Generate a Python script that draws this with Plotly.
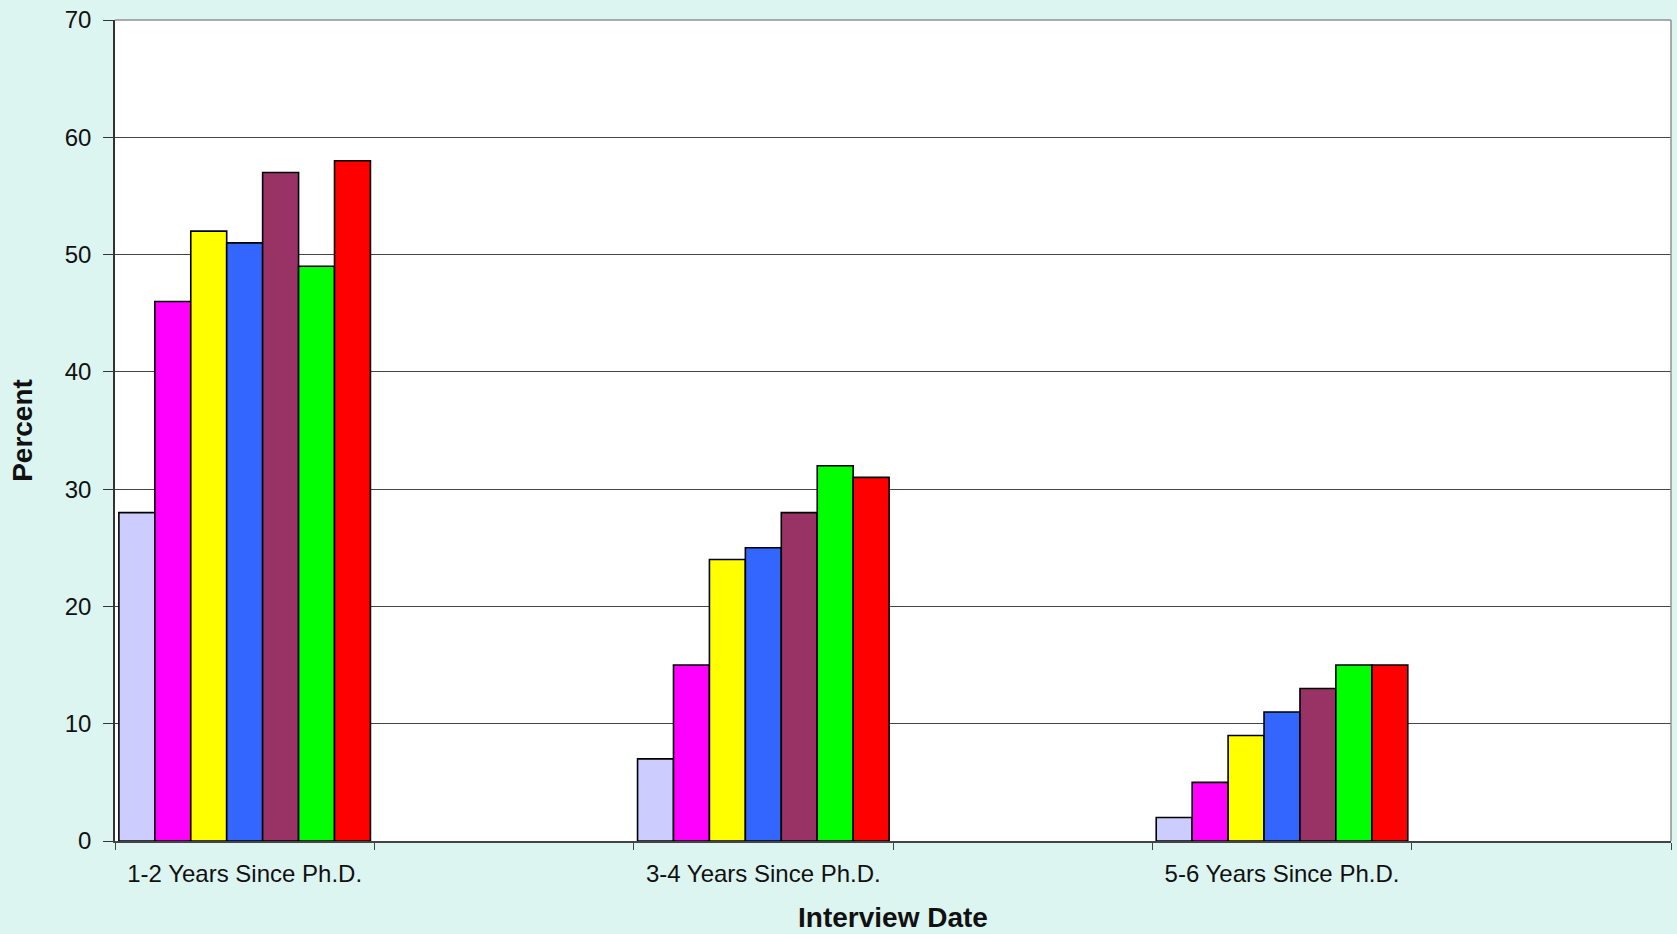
import plotly.graph_objects as go

# Categories (empty slots are spacer categories seen on the axis)
categories = ["1-2 Years Since Ph.D.", " ", "3-4 Years Since Ph.D.", "  ", "5-6 Years Since Ph.D.", "   "]

series_a = [28, None, 7, None, 2, None]
series_b = [46, None, 15, None, 5, None]
series_c = [52, None, 24, None, 9, None]
series_d = [51, None, 25, None, 11, None]
series_e = [57, None, 28, None, 13, None]
series_f = [49, None, 32, None, 15, None]
series_g = [58, None, 31, None, 15, None]

series_names = ["Series 1", "Series 2", "Series 3", "Series 4", "Series 5", "Series 6", "Series 7"]
series_values = [series_a, series_b, series_c, series_d, series_e, series_f, series_g]
series_colors = ["#CCCCFF", "#FF00FF", "#FFFF00", "#3366FF", "#993366", "#00FF00", "#FF0000"]

y_ticks = [0, 10, 20, 30, 40, 50, 60, 70]

fig = go.Figure()
for name, vals, col in zip(series_names, series_values, series_colors):
    fig.add_trace(go.Bar(
        x=categories, y=vals, name=name,
        marker=dict(color=col, line=dict(color="#000000", width=1.6)),
    ))

font_family = "Liberation Sans, Arial, sans-serif"
bg = "#DDF5F0"

fig.update_layout(
    width=1677, height=934,
    paper_bgcolor=bg, plot_bgcolor="#FFFFFF",
    barmode="group", bargap=0.03, bargroupgap=0,
    showlegend=False,
    margin=dict(l=115, r=6, t=19, b=92),
    font=dict(family=font_family, color="#111111"),
    xaxis=dict(
        type="category", categoryorder="array", categoryarray=categories,
        range=[-0.5, 5.5],
        tickson="boundaries", ticks="outside", ticklen=7, tickcolor="#444444", tickwidth=1,
        showline=True, linecolor="#444444", linewidth=1.5,
        showgrid=False, zeroline=False,
        tickfont=dict(size=24, family=font_family, color="#111111"),
        ticklabelstandoff=10,
        title=dict(text="<b>Interview Date</b>", font=dict(size=28, family=font_family, color="#111111"), standoff=22),
    ),
    yaxis=dict(
        range=[0, 70], tickvals=y_ticks,
        ticks="outside", ticklen=10, tickcolor="#333333", tickwidth=1,
        showline=True, linecolor="#333333", linewidth=1.5,
        showgrid=True, gridcolor="#444444", gridwidth=1,
        zeroline=False,
        tickfont=dict(size=24, family=font_family, color="#111111"),
        ticklabelstandoff=7,
        title=dict(text="<b>Percent</b>", font=dict(size=28, family=font_family, color="#111111"), standoff=24),
    ),
    shapes=[
        dict(type="line", xref="paper", yref="paper", x0=0, x1=1, y0=1, y1=1,
             line=dict(color="#909090", width=1.5)),
        dict(type="line", xref="paper", yref="paper", x0=1, x1=1, y0=0, y1=1,
             line=dict(color="#909090", width=1.5)),
    ],
)

fig.write_html("out.html")
